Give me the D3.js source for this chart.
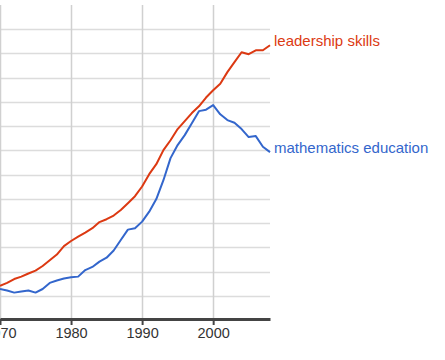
<!DOCTYPE html>
<html>
<head>
<meta charset="utf-8">
<script src="https://cdn.jsdelivr.net/npm/d3@7"></script>
<style>
  body { margin: 0; background: #fff; }
  svg { display: block; font-family: Arial, "Liberation Sans", sans-serif; }
</style>
</head>
<body>
<svg id="chart"></svg>
<script>
// years on the x axis
const years = d3.range(1970, 2009);

// series values (relative frequency, one grid step = 1 unit)
const leadership = [1.41, 1.53, 1.69, 1.79, 1.92, 2.04, 2.23, 2.47, 2.70, 3.05,
  3.26, 3.44, 3.61, 3.79, 4.04, 4.16, 4.31, 4.54, 4.82, 5.11,
  5.51, 6.02, 6.43, 7.01, 7.42, 7.88, 8.21, 8.54, 8.82, 9.18,
  9.48, 9.75, 10.23, 10.64, 11.05, 10.97, 11.13, 11.13, 11.34];
const mathematics = [1.28, 1.22, 1.13, 1.18, 1.22, 1.13, 1.28, 1.53, 1.63, 1.71,
  1.76, 1.79, 2.06, 2.19, 2.41, 2.57, 2.87, 3.30, 3.73, 3.79,
  4.06, 4.47, 4.99, 5.77, 6.68, 7.22, 7.63, 8.12, 8.62, 8.68,
  8.87, 8.49, 8.25, 8.14, 7.88, 7.55, 7.59, 7.15, 6.93];

const seriesNames = ['leadership skills', 'mathematics education'];
const seriesColors = ['#dc3912', '#3366cc'];
const xTicks = [1970, 1980, 1990, 2000];
const yGrid = d3.range(1, 13);

const width = 445, height = 360;
const plotRight = 270, plotTop = 5, plotBottom = 320;

const svg = d3.select('#chart').attr('width', width).attr('height', height);

const x = d3.scaleLinear().domain([1970, 2008]).range([0, plotRight]);
const y = d3.scaleLinear().domain([0, 13]).range([plotBottom, plotTop]);

// horizontal grid
svg.append('g')
  .selectAll('line')
  .data(yGrid)
  .enter().append('line')
  .attr('x1', 0).attr('x2', plotRight)
  .attr('y1', d => Math.round(y(d)) + 0.5)
  .attr('y2', d => Math.round(y(d)) + 0.5)
  .style('stroke', '#dcdcdc')
  .style('stroke-width', 1.5);

// vertical grid
svg.append('g')
  .selectAll('line')
  .data(xTicks)
  .enter().append('line')
  .attr('x1', d => Math.round(x(d)) + 0.5)
  .attr('x2', d => Math.round(x(d)) + 0.5)
  .attr('y1', plotTop).attr('y2', plotBottom)
  .style('stroke', '#d0d0d0')
  .style('stroke-width', 1.5);

// lines
const line = d3.line()
  .x((d, i) => x(years[i]))
  .y(d => y(d));

[leadership, mathematics].forEach((vals, k) => {
  svg.append('path')
    .datum(vals)
    .attr('d', line)
    .style('fill', 'none')
    .style('stroke', seriesColors[k])
    .style('stroke-width', 2)
    .style('stroke-linejoin', 'round');

  svg.append('text')
    .attr('x', plotRight + 4)
    .attr('y', y(vals[vals.length - 1]) - 4)
    .attr('dy', '0.35em')
    .style('font-size', '15px')
    .style('fill', seriesColors[k])
    .text(seriesNames[k]);
});

// x axis
const xAxis = d3.axisBottom(x)
  .tickValues(xTicks)
  .tickFormat(d3.format('d'))
  .tickSize(6)
  .tickSizeOuter(0);

const gx = svg.append('g')
  .attr('transform', 'translate(0,' + (plotBottom - 1) + ')')
  .call(xAxis);

gx.select('.domain')
  .attr('stroke', '#444')
  .attr('stroke-width', 3);
gx.selectAll('.tick line')
  .attr('stroke', '#444')
  .attr('stroke-width', 2);
gx.selectAll('.tick text')
  .attr('y', 9)
  .style('font-family', 'Arial, "Liberation Sans", sans-serif')
  .style('font-size', '14.5px')
  .style('fill', '#333');
</script>
</body>
</html>
